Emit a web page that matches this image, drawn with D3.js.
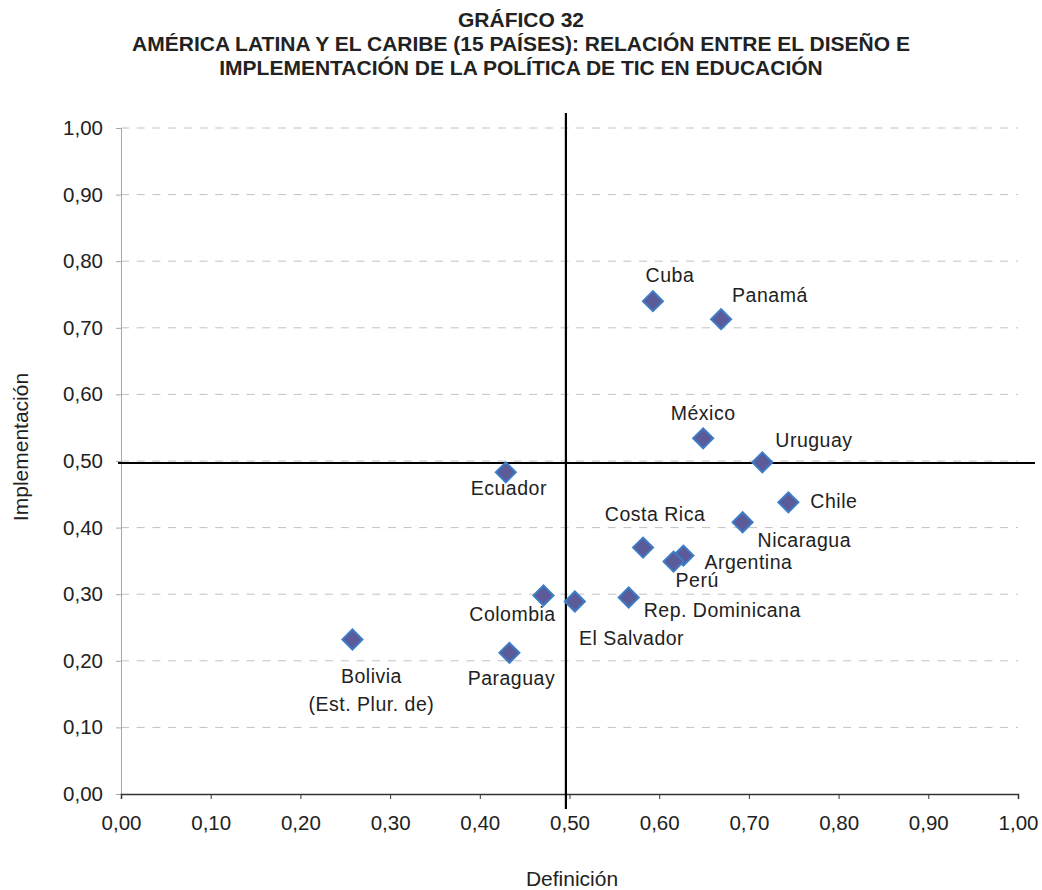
<!DOCTYPE html>
<html>
<head>
<meta charset="utf-8">
<script src="https://cdn.jsdelivr.net/npm/d3@7"></script>
<style>
  body { margin: 0; background: #fff; }
  text { font-family: "Liberation Sans", Arial, sans-serif; fill: #222; }
</style>
</head>
<body>
<svg width="1042" height="890"></svg>
<script>
// datos
var countries = ["Cuba", "Panamá", "México", "Uruguay", "Chile", "Nicaragua", "Argentina", "Perú",
  "Costa Rica", "Rep. Dominicana", "El Salvador", "Colombia", "Paraguay", "Ecuador", "Bolivia"];
var definicion = [0.593, 0.669, 0.649, 0.715, 0.744, 0.693, 0.627, 0.616,
  0.582, 0.566, 0.506, 0.471, 0.433, 0.429, 0.258];
var implementacion = [0.740, 0.713, 0.534, 0.498, 0.438, 0.408, 0.358, 0.349,
  0.370, 0.295, 0.289, 0.298, 0.212, 0.483, 0.232];
var ticks = [0, 0.1, 0.2, 0.3, 0.4, 0.5, 0.6, 0.7, 0.8, 0.9, 1.0];
var refX = 0.496, refY = 0.497;

var titleLines = ["GRÁFICO 32",
  "AMÉRICA LATINA Y EL CARIBE (15 PAÍSES): RELACIÓN ENTRE EL DISEÑO E",
  "IMPLEMENTACIÓN DE LA POLÍTICA DE TIC EN EDUCACIÓN"];

// donde va cada etiqueta respecto a su punto
var labelPos = {
  "Cuba": ["middle", 17, -19],
  "Panamá": ["start", 11, -17],
  "México": ["middle", 0, -18],
  "Uruguay": ["start", 13, -15],
  "Chile": ["start", 22, 6],
  "Nicaragua": ["start", 15, 25],
  "Argentina": ["start", 21, 13],
  "Perú": ["start", 2, 25],
  "Costa Rica": ["middle", 12, -27],
  "Rep. Dominicana": ["start", 15, 19],
  "El Salvador": ["start", 4, 43],
  "Colombia": ["middle", -31, 25],
  "Paraguay": ["middle", 2, 32],
  "Ecuador": ["middle", 3, 23],
  "Bolivia": ["middle", 19, 44]
};

var svg = d3.select("svg"),
  width = +svg.attr("width"),
  height = +svg.attr("height");

var x = d3.scaleLinear().domain([0, 1]).range([121, 1018]);
var y = d3.scaleLinear().domain([0, 1]).range([794, 128]);
var fmt = function(d) { return d3.format(".2f")(d).replace(".", ","); };

// titulo
svg.append("g").selectAll("text")
  .data(titleLines)
  .enter().append("text")
  .attr("x", width / 2)
  .attr("y", function(d, i) { return 27 + i * 24; })
  .attr("text-anchor", "middle")
  .style("font-weight", "bold")
  .style("font-size", "21px")
  .text(function(d) { return d; });

// lineas de grilla
svg.append("g")
  .selectAll("line")
  .data(ticks.slice(1))
  .enter().append("line")
  .attr("x1", x(0)).attr("x2", x(1))
  .attr("y1", function(d) { return y(d); })
  .attr("y2", function(d) { return y(d); })
  .style("stroke", "#c2c2c2")
  .style("stroke-dasharray", "8,7.7");

// eje y
var yAxis = svg.append("g")
  .attr("transform", "translate(" + x(0) + ",0)")
  .call(d3.axisLeft(y).tickValues(ticks).tickFormat(fmt).tickSize(5).tickPadding(13));
yAxis.select(".domain").style("stroke", "#a8a8a8");
yAxis.selectAll(".tick line").style("stroke", "#a8a8a8");
yAxis.selectAll("text").style("font-size", "20.5px").style("fill", "#222")
  .style("font-family", "'Liberation Sans', Arial, sans-serif");

// eje x
var xAxis = svg.append("g")
  .attr("transform", "translate(0," + y(0) + ")")
  .call(d3.axisBottom(x).tickValues(ticks).tickFormat(fmt).tickSize(5).tickPadding(16));
xAxis.select(".domain").style("stroke", "#333").style("stroke-width", 1.5);
xAxis.selectAll(".tick line").style("stroke", "#333");
xAxis.selectAll("text").style("font-size", "20.5px").style("fill", "#222")
  .style("font-family", "'Liberation Sans', Arial, sans-serif");

// titulos de ejes
svg.append("text")
  .attr("x", 572).attr("y", 886)
  .attr("text-anchor", "middle")
  .style("font-size", "21px")
  .text("Definición");

svg.append("text")
  .attr("transform", "translate(28,447) rotate(-90)")
  .attr("text-anchor", "middle")
  .style("font-size", "21px")
  .text("Implementación");

// lineas de referencia
svg.append("line")
  .attr("x1", x(0) - 3).attr("x2", 1035)
  .attr("y1", y(refY)).attr("y2", y(refY))
  .style("stroke", "#000").style("stroke-width", 2.2);
svg.append("line")
  .attr("x1", x(refX)).attr("x2", x(refX))
  .attr("y1", 113).attr("y2", 809)
  .style("stroke", "#000").style("stroke-width", 2.2);

// puntos
var pts = countries.map(function(c, i) {
  return { name: c, dx: definicion[i], im: implementacion[i] };
});

var node = svg.append("g")
  .selectAll("g")
  .data(pts)
  .enter().append("g")
  .attr("transform", function(d) {
    return "translate(" + x(d.dx) + "," + y(d.im) + ")";
  });

node.append("path")
  .attr("d", d3.symbol().type(d3.symbolSquare).size(200))
  .attr("transform", "rotate(45)")
  .style("fill", "#5a5b98")
  .style("stroke", "#3d7cc6")
  .style("stroke-width", 2);

node.append("text")
  .attr("text-anchor", function(d) { return labelPos[d.name][0]; })
  .attr("x", function(d) { return labelPos[d.name][1]; })
  .attr("y", function(d) { return labelPos[d.name][2]; })
  .style("font-size", "19.5px")
  .style("letter-spacing", "0.5px")
  .text(function(d) { return d.name; });

// segunda linea de Bolivia
node.filter(function(d) { return d.name === "Bolivia"; })
  .append("text")
  .attr("text-anchor", "middle")
  .attr("x", 19)
  .attr("y", 72)
  .style("font-size", "19.5px")
  .style("letter-spacing", "0.5px")
  .text("(Est. Plur. de)");
</script>
</body>
</html>
